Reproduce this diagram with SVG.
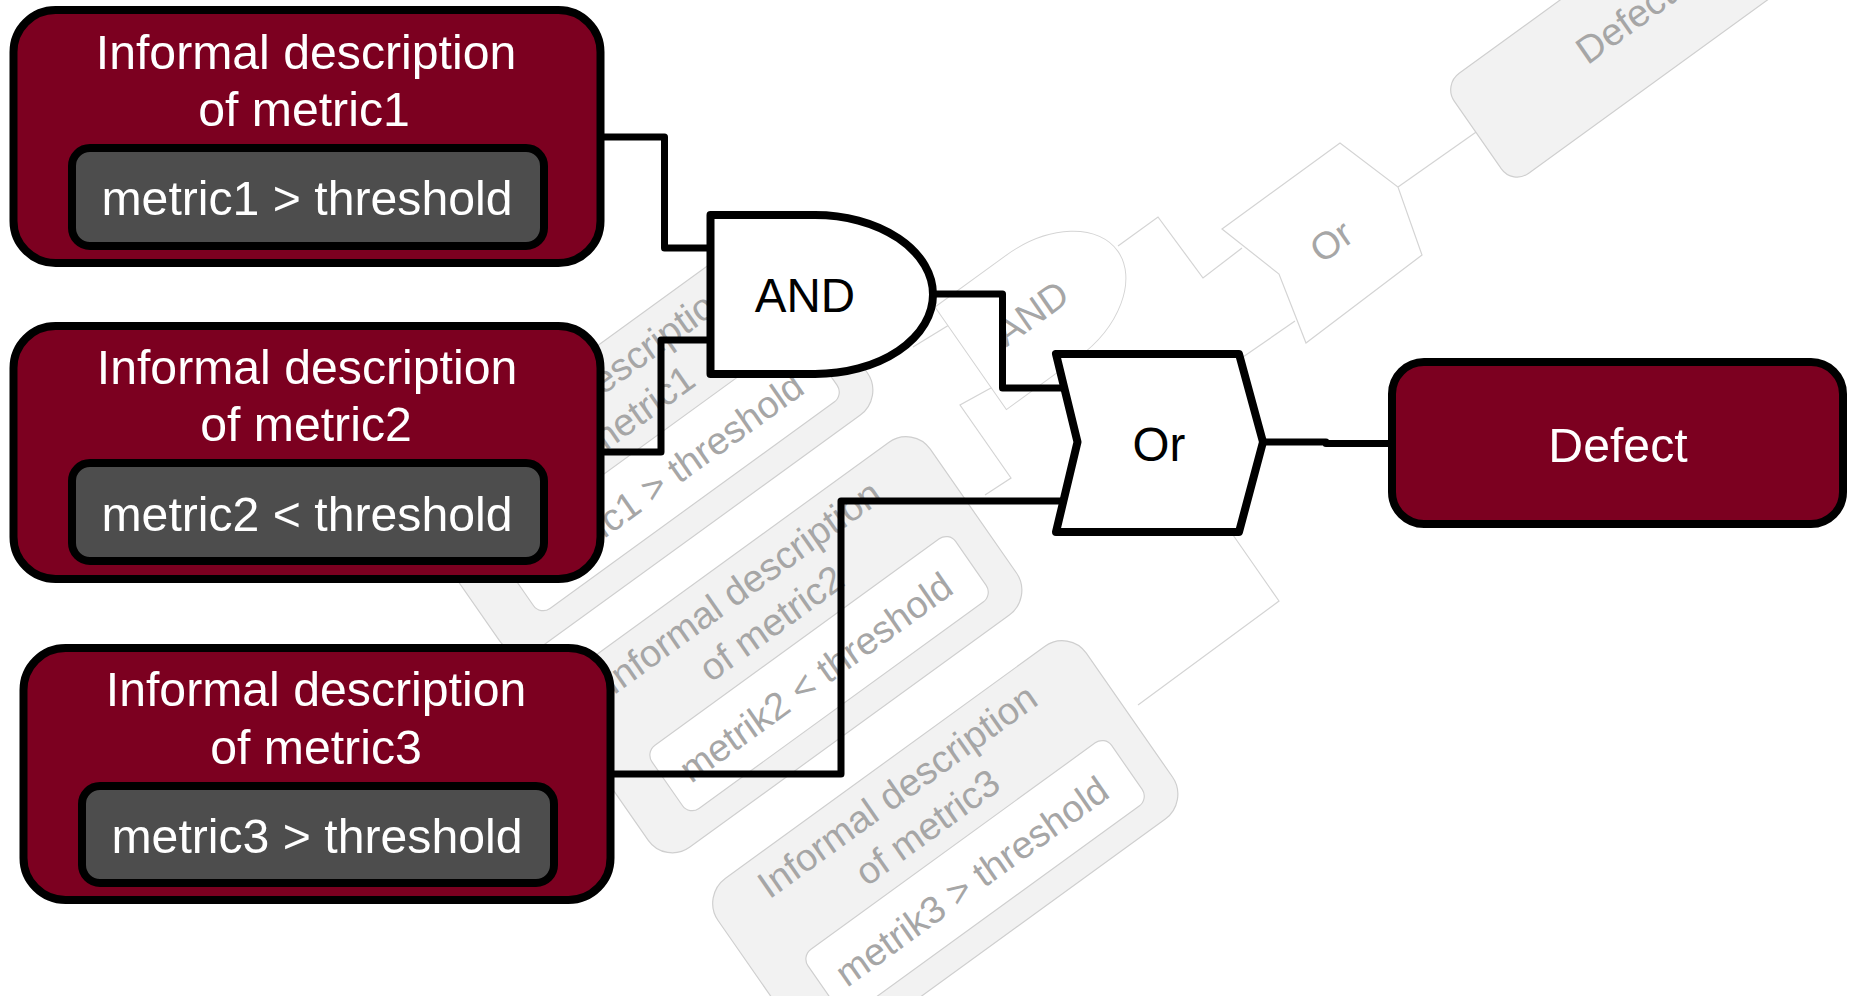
<svg xmlns="http://www.w3.org/2000/svg" width="1849" height="999" viewBox="0 0 1849 999">
<style>
text{font-family:"Liberation Sans",Arial,sans-serif;text-anchor:middle}
.t{font-size:48.2px;fill:#fff}
.k{font-size:47.5px;fill:#000}
.o{fill:#7c0020;stroke:#000;stroke-width:8;stroke-linejoin:round}
.i{fill:#4d4d4d;stroke:#000;stroke-width:8}
.g{fill:#fff;stroke:#000;stroke-width:8;stroke-linejoin:round}
.c{fill:none;stroke:#000;stroke-width:7;stroke-linejoin:round}
.go{fill:#f2f2f2;stroke:#cfcfcf;stroke-width:1.5}
.gi{fill:#fff;stroke:#cfcfcf;stroke-width:1.5}
.gw{fill:#fff;stroke:#d4d4d4;stroke-width:1.2}
.gc{fill:none;stroke:#d4d4d4;stroke-width:1.2}
.gt{font-size:48px;fill:#a6a6a6}
</style>
<defs>
<clipPath id="page"><rect x="0" y="0" width="1849" height="996"/></clipPath>
<g id="gbox"><rect class="go" x="0" y="0" width="570" height="268" rx="38"/><rect class="gi" x="60" y="137" width="470" height="98" rx="15"/></g>
</defs>
<g id="ghost" clip-path="url(#page)">
<g class="gc">
<path d="M949 325L1011 403M913 347L949 325"/>
<path d="M1000 383L960 405L1011 478L985 495"/>
<path d="M1138 705L1279 601L1233 535"/>
<path d="M1243 357L1295 321"/>
<path d="M1118 246L1158 217L1203 278L1242 248"/>
<path d="M1398 187L1479 130"/>
</g>
<g id="ghost-metric1" transform="matrix(.646 -.469 .449 .645 396 492)"><use href="#gbox"/><text class="gt" x="277" y="55">Informal description</text><text class="gt" x="282" y="115">of metric1</text><text class="gt" x="289" y="204">metric1 &gt; threshold</text></g>
<g id="ghost-metric2" transform="matrix(.646 -.469 .449 .645 545 692)"><use href="#gbox"/><text class="gt" x="277" y="55">Informal description</text><text class="gt" x="282" y="115">of metric2</text><text class="gt" x="289" y="204">metrik2 &lt; threshold</text></g>
<g id="ghost-metric3" transform="matrix(.646 -.469 .449 .645 701 896)"><use href="#gbox"/><text class="gt" x="277" y="55">Informal description</text><text class="gt" x="282" y="115">of metric3</text><text class="gt" x="289" y="204">metrik3 &gt; threshold</text></g>
<g id="ghost-and" transform="matrix(.646 -.469 .449 .645 935 307)"><path class="gw" d="M0 0H110A118 79.500 0 0 1 110 159H0Z"/><text class="gt" x="95" y="95">AND</text></g>
<g id="ghost-or"><path class="gw" d="M1222 229L1340 143L1398 187L1422 255L1306 343L1279 274Z"/><text class="gt" transform="matrix(.646 -.469 .449 .645 1331 241)" x="0" y="17">Or</text></g>
<g id="ghost-defect" transform="matrix(.646 -.469 .449 .645 1443 85)"><rect class="go" x="0" y="0" width="450" height="155" rx="25"/><text class="gt" x="232" y="88">Defect</text></g>
</g>
<g id="connectors">
<path class="c" d="M604 137H664.500V248H712"/>
<path class="c" d="M604 452H661V340H712"/>
<path class="c" d="M935 294H1002.500V388H1066"/>
<path class="c" d="M614 774H841V501H1062"/>
<path class="c" d="M1262 442H1326V443.500H1392"/>
</g>
<g id="metric1"><rect class="o" x="13.500" y="10" width="587" height="253" rx="42"/><rect class="i" x="72" y="148" width="472" height="98" rx="18"/><text class="t" x="306" y="69">Informal description</text><text class="t" x="304" y="126">of metric1</text><text class="t" x="307" y="215">metric1 &gt; threshold</text></g>
<g id="metric2"><rect class="o" x="13.500" y="326" width="587" height="253" rx="42"/><rect class="i" x="72" y="463" width="472" height="98" rx="18"/><text class="t" x="307" y="384">Informal description</text><text class="t" x="306" y="441">of metric2</text><text class="t" x="307" y="531">metric2 &lt; threshold</text></g>
<g id="metric3"><rect class="o" x="23.500" y="648" width="587" height="252" rx="42"/><rect class="i" x="82" y="786" width="472" height="97" rx="18"/><text class="t" x="316" y="706">Informal description</text><text class="t" x="316" y="764">of metric3</text><text class="t" x="317" y="853">metric3 &gt; threshold</text></g>
<g id="and"><path class="g" d="M710.500 215H815A118 79.500 0 0 1 815 374H710.500Z"/><text class="k" x="805" y="312">AND</text></g>
<g id="or"><path class="g" d="M1056 354H1239L1263 442L1239 532H1056L1077.500 442Z"/><text class="k" x="1159" y="461">Or</text></g>
<g id="defect"><rect class="o" x="1392" y="362" width="451" height="162" rx="32"/><text class="t" x="1618" y="462">Defect</text></g>
</svg>
